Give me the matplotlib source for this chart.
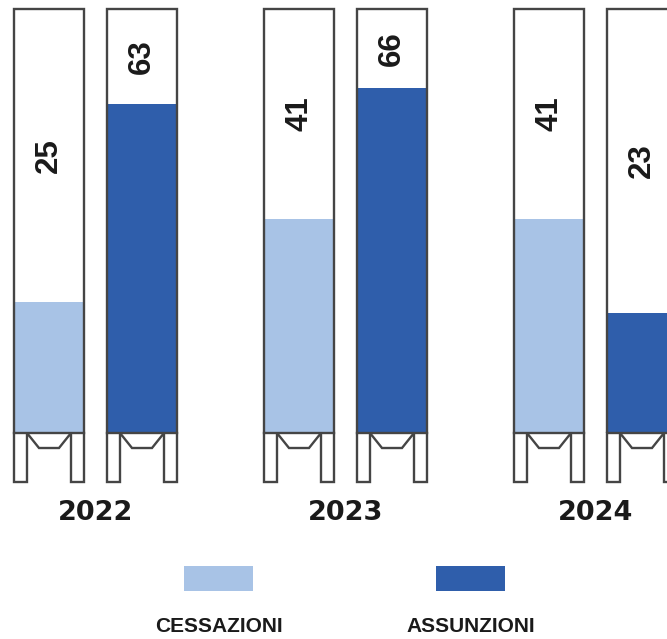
import matplotlib.pyplot as plt
from matplotlib.patches import Rectangle

years = ['2022', '2023', '2024']
cessazioni = [25, 41, 41]
assunzioni = [63, 66, 23]
series_names = ['CESSAZIONI', 'ASSUNZIONI']
colors = ['#a8c3e6', '#2f5eab']

EDGE = '#454545'
TUBE_TOP = 81        # capacity of each tube
PX_PER_UNIT = 5.23   # vertical scale
LW = 1.7

label_font = ['Liberation Sans', 'DejaVu Sans']

fig = plt.figure(figsize=(6.67, 6.39), dpi=100)
ax = fig.add_axes([0, 0, 1, 1])
ax.set_xlim(-0.382, 2.286)
ax.set_ylim(-(639 - 433) / PX_PER_UNIT, 433 / PX_PER_UNIT)
ax.axis('off')

width = 0.28
offset = 0.186
leg_w = 0.052
leg_h = -9.37
funnel_d = -2.87
funnel_x = 0.1


def draw_tube(xc, value, color):
    left, right = xc - width / 2, xc + width / 2
    ax.bar(xc, value, width=width, color=color, zorder=1)
    ax.add_patch(Rectangle((left, 0), width, TUBE_TOP, fill=False,
                           edgecolor=EDGE, lw=LW, zorder=3))
    # stand below the tube
    xs = [left, left, left + leg_w, left + leg_w, left + funnel_x,
          right - funnel_x, right - leg_w, right - leg_w, right, right]
    ys = [0, leg_h, leg_h, 0, funnel_d, funnel_d, 0, leg_h, leg_h, 0]
    ax.plot(xs, ys, color=EDGE, lw=LW, zorder=3, solid_joinstyle='miter')
    ax.text(xc, (value + TUBE_TOP) / 2, str(value), rotation=90,
            ha='center', va='center', fontsize=22.5, fontweight='bold',
            family=label_font, color='#1a1a1a', zorder=4)


for i, year in enumerate(years):
    draw_tube(i - offset, cessazioni[i], colors[0])
    draw_tube(i + offset, assunzioni[i], colors[1])
    ax.text(i, -15.3, year, ha='center', va='center', fontsize=19.5,
            fontweight='bold', color='#1a1a1a')

# legend
legend_x = [0.3283, 0.7061]
for name, color, lx in zip(series_names, colors, legend_x):
    ax.add_patch(Rectangle((lx - 0.0517, 0.0751), 0.1034, 0.0391,
                           transform=ax.transAxes, color=color, lw=0))
    ax.text(lx, 0.0188, name, transform=ax.transAxes, ha='center',
            va='center', fontsize=15, fontweight='bold', family=label_font,
            color='#1a1a1a')

fig.savefig('out.png', dpi=100)
